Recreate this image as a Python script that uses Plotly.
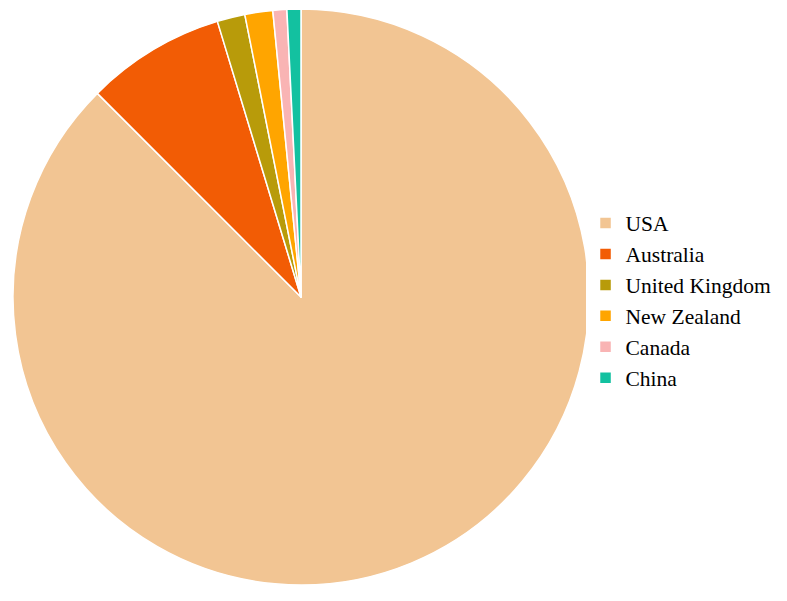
import plotly.graph_objects as go

countries = ["USA", "Australia", "United Kingdom", "New Zealand", "Canada", "China"]
counts = [112, 10, 2, 2, 1, 1]
colors = ["#F2C593", "#F25C05", "#B89B0A", "#FFA500", "#F9B4B4", "#13C1A0"]

fig = go.Figure(go.Pie(
    labels=countries,
    values=counts,
    sort=False,
    direction="clockwise",
    rotation=0,
    textinfo="none",
    hoverinfo="label+value+percent",
    marker=dict(colors=colors, line=dict(color="white", width=1.5)),
    domain=dict(x=[13/787, 589/787], y=[16/601, 592/601]),
))

fig.update_layout(
    width=787, height=601,
    margin=dict(l=0, r=0, t=0, b=0),
    paper_bgcolor="white",
    plot_bgcolor="white",
    showlegend=True,
    legend=dict(
        x=0.744, y=0.5, xanchor="left", yanchor="middle",
        font=dict(family="Liberation Serif", size=21.5, color="black"),
        itemwidth=30,
        tracegroupgap=0,
    ),
)

fig.write_html("out.html")
